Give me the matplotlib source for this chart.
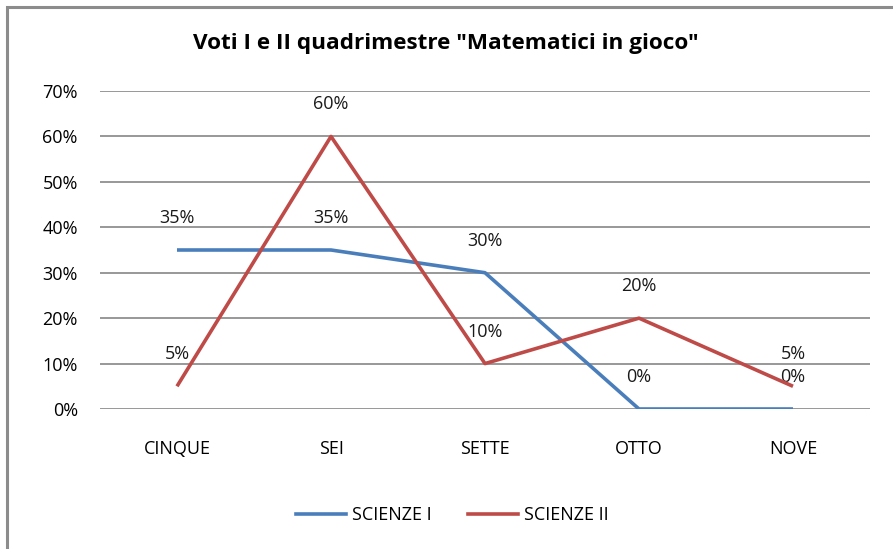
import matplotlib
matplotlib.use("Agg")
import matplotlib.pyplot as plt
from matplotlib.lines import Line2D
from matplotlib.patches import Rectangle

categories = ["CINQUE", "SEI", "SETTE", "OTTO", "NOVE"]
scienze_1 = [35, 35, 30, 0, 0]
scienze_2 = [5, 60, 10, 20, 5]
series_names = ["SCIENZE I", "SCIENZE II"]
yticks = [0, 10, 20, 30, 40, 50, 60, 70]
title = 'Voti I e II quadrimestre "Matematici in gioco"'

BLUE = "#4A7EBB"
RED = "#BE4B48"
GRID = "#868686"
FONT = ["Open Sans", "DejaVu Sans"]
plt.rcParams["font.family"] = FONT
FS = 13

W, H = 893, 549
fig = plt.figure(figsize=(W / 100, H / 100), dpi=100)
fig.patch.set_facecolor("white")

# outer chart border (cropped on right and bottom)
fig.add_artist(Rectangle((7 / W, -0.05), 1.2, 1 - 7 / H + 0.05, transform=fig.transFigure,
                         fill=False, edgecolor="#8C8C8C", linewidth=2.2))

left, right = 100 / W, 870 / W
top, bottom = 1 - 91 / H, 1 - 409 / H
ax = fig.add_axes([left, bottom, right - left, top - bottom])
ax.set_xlim(-0.5, 4.5)
ax.set_ylim(0, 70)
x = list(range(len(categories)))

for v in yticks:
    ax.axhline(v, color=GRID, linewidth=1.2, zorder=1)

ax.plot(x, scienze_1, color=BLUE, linewidth=2.6, solid_capstyle="butt", zorder=3)
ax.plot(x, scienze_2, color=RED, linewidth=2.6, solid_capstyle="butt", zorder=4)

for xi, v in zip(x, scienze_1):
    ax.annotate(f"{v}%", (xi, v), xytext=(0, 23), textcoords="offset points",
                ha="center", va="center", fontsize=FS, color="#1a1a1a")
for xi, v in zip(x, scienze_2):
    ax.annotate(f"{v}%", (xi, v), xytext=(0, 23), textcoords="offset points",
                ha="center", va="center", fontsize=FS, color="#1a1a1a")

ax.set_xticks(x)
ax.set_xticklabels(categories, fontsize=FS)
ax.set_yticks(yticks)
ax.set_yticklabels([f"{v}%" for v in yticks], fontsize=FS)
ax.tick_params(length=0, pad=22, axis="x")
ax.tick_params(length=0, pad=16, axis="y")
for s in ax.spines.values():
    s.set_visible(False)

fig.text(446 / W, 1 - 44 / H, title, ha="center", va="center", fontsize=16.2, fontweight="bold")

handles = [Line2D([], [], color=BLUE, linewidth=2.6),
           Line2D([], [], color=RED, linewidth=2.6)]
fig.legend(handles, series_names, loc="center", bbox_to_anchor=(452 / W, 1 - 515 / H),
           ncol=2, frameon=False, fontsize=FS, handlelength=2.8, handletextpad=0.3,
           columnspacing=2.0)

fig.savefig("out.png", dpi=100, facecolor="white")
